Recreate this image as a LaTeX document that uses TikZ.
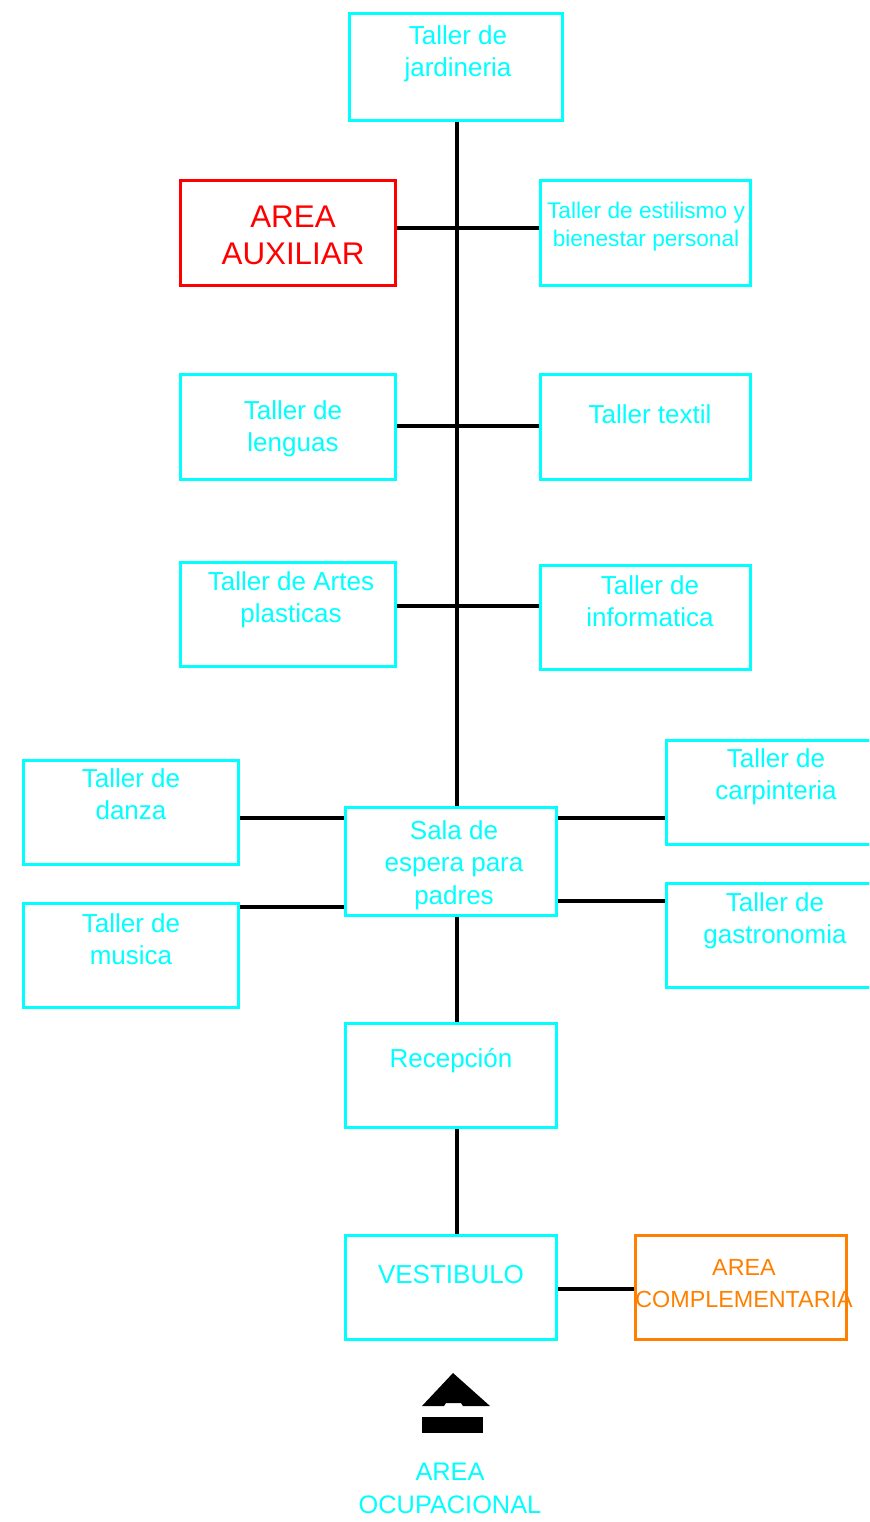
\documentclass[tikz,border=0pt]{standalone}
\usepackage{fontspec}
\setmainfont{Liberation Sans}
\usetikzlibrary{fit}
\definecolor{cy}{RGB}{0,255,255}
\definecolor{rd}{RGB}{255,0,0}
\definecolor{og}{RGB}{255,128,0}
\newcommand\fmain{\fontsize{19.5pt}{24.5pt}\selectfont}
\newcommand\fest{\fontsize{17pt}{21pt}\selectfont}
\newcommand\faux{\fontsize{23.5pt}{27.5pt}\selectfont}
\newcommand\fcomp{\fontsize{17.5pt}{24pt}\selectfont}
\newcommand\focup{\fontsize{19pt}{24.75pt}\selectfont}
\tikzset{
  bx/.style={draw=cy, line width=2.25pt, inner sep=0pt},
  redbx/.style={bx, draw=rd},
  orgbx/.style={bx, draw=og},
  ln/.style={draw=black, line width=2.4pt},
  txt/.style={font=\fmain, text=cy, align=center, inner sep=0pt, anchor=north},
}
\begin{document}
\begin{tikzpicture}[x=0.75pt,y=-0.75pt]
\clip (0,0) rectangle (869,1522);
% boxes
\node[bx, fit={(349.5,13.5) (562.5,120.5)}] (jard) {};
\node[redbx, fit={(180.5,180.5) (395.5,285.5)}] (aux) {};
\node[bx, fit={(540.5,180.5) (750.5,285.5)}] (est) {};
\node[bx, fit={(180.5,374.5) (395.5,479.5)}] (leng) {};
\node[bx, fit={(540.5,374.5) (750.5,479.5)}] (text) {};
\node[bx, fit={(180.5,562.5) (395.5,666.5)}] (artes) {};
\node[bx, fit={(540.5,565.5) (750.5,669.5)}] (info) {};
\node[bx, fit={(23.5,760.5) (238.5,864.5)}] (danza) {};
\node[bx, fit={(23.5,903.5) (238.5,1007.5)}] (musica) {};
\node[bx, fit={(345.5,807.5) (556.5,915.5)}] (sala) {};
\node[bx, fit={(666.5,740.5) (879.5,844.5)}] (carp) {};
\node[bx, fit={(666.5,883.5) (879.5,987.5)}] (gastro) {};
\node[bx, fit={(345.5,1023.5) (556.5,1127.5)}] (recep) {};
\node[bx, fit={(345.5,1235.5) (556.5,1339.5)}] (vest) {};
\node[orgbx, fit={(635.5,1235.5) (846.5,1339.5)}] (compl) {};
% texts
\node[txt] (tjard) at (458,25) {Taller de\\jardineria};
\node[txt, font=\faux, text=rd] (taux) at (293,206) {AREA\\AUXILIAR};
\node[txt, font=\fest] (test) at (646,202) {Taller de estilismo y\\bienestar personal};
\node[txt] (tleng) at (293,400) {Taller de\\lenguas};
\node[txt] (ttext) at (650,404) {Taller textil};
\node[txt] (tartes) at (291,571) {Taller de Artes\\plasticas};
\node[txt] (tinfo) at (650,575) {Taller de\\informatica};
\node[txt] (tdanza) at (131,768) {Taller de\\danza};
\node[txt] (tmusica) at (131,913) {Taller de\\musica};
\node[txt] (tsala) at (454,820) {Sala de\\espera para\\padres};
\node[txt] (tcarp) at (776,748) {Taller de\\carpinteria};
\node[txt] (tgastro) at (775,892) {Taller de\\gastronomia};
\node[txt] (trecep) at (451,1048) {Recepción};
\node[txt] (tvest) at (451,1265) {VESTIBULO};
\node[txt, font=\fcomp, text=og] (tcompl) at (744,1259) {AREA\\COMPLEMENTARIA};
\node[txt, font=\focup] (tocup) at (450,1463) {AREA\\OCUPACIONAL};
% connectors
\coordinate (sp) at (457,0);
\draw[ln] (jard.south -| sp) -- (sala.north -| sp);
\draw[ln] (aux.east |- 0,228) -- (est.west |- 0,228);
\draw[ln] (leng.east |- 0,426) -- (text.west |- 0,426);
\draw[ln] (artes.east |- 0,606) -- (info.west |- 0,606);
\draw[ln] (danza.east |- 0,818) -- (sala.west |- 0,818);
\draw[ln, line width=3.2pt] (musica.east |- 0,907) -- (sala.west |- 0,907);
\draw[ln] (sala.east |- 0,818) -- (carp.west |- 0,818);
\draw[ln] (sala.east |- 0,901) -- (gastro.west |- 0,901);
\draw[ln] (sala.south -| sp) -- (recep.north -| sp);
\draw[ln] (recep.south -| sp) -- (vest.north -| sp);
\draw[ln] (vest.east |- 0,1289) -- (compl.west |- 0,1289);
% entrance symbol
\fill[black] (453,1373) -- (490,1406) -- (463,1406) -- (461,1403) -- (446,1403) -- (444,1406) -- (422,1406) -- cycle;
\fill[black] (422,1417) rectangle (483,1433);
\end{tikzpicture}
\end{document}
